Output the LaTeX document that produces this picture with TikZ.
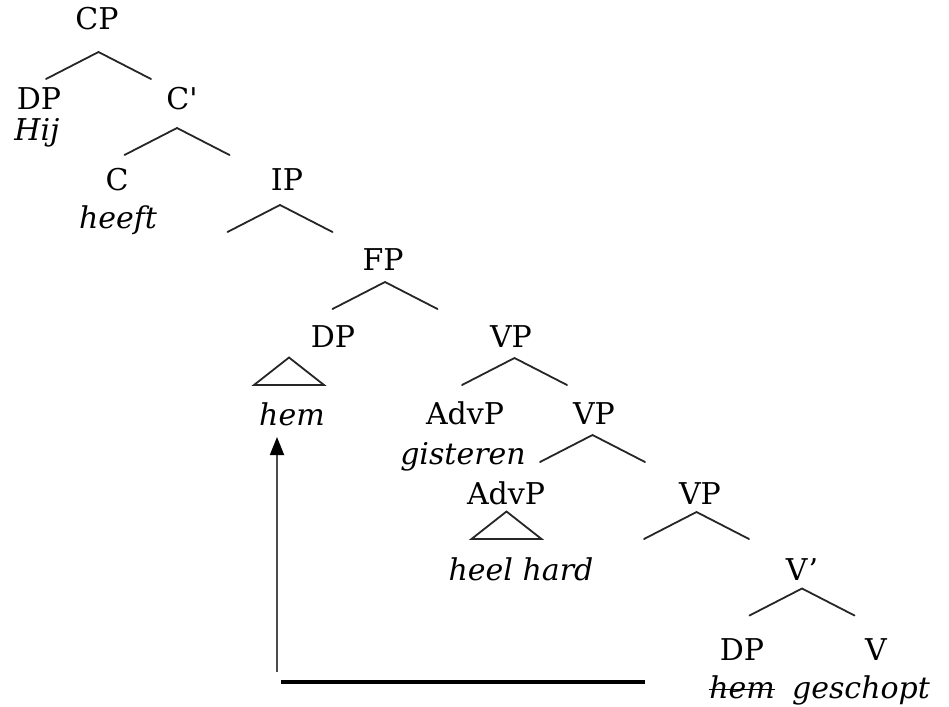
\documentclass[tikz,border=0pt]{standalone}
\usepackage{fontspec}
\setmainfont{DejaVu Serif}
\usetikzlibrary{arrows.meta}
\newcommand{\straightquote}{\XeTeXglyph\XeTeXcharglyph"0027\relax}
\tikzset{
  lbl/.style={inner sep=0pt, anchor=base, font=\fontsize{30}{36}\selectfont},
  wrd/.style={lbl, font=\fontsize{30}{36}\selectfont\itshape},
  treeline/.style={draw=black!85, line width=1.8pt, line cap=round, line join=miter},
  hat/.pic={\draw[treeline] (-52.5,27) -- (0,0) -- (52.5,27);},
  tri/.pic={\draw[treeline] (-35,27.5) -- (0,0) -- (35,27.5) -- cycle;},
  movearrow/.style={draw=black!70, line width=1.8pt, -{Triangle[length=18pt,width=14pt,fill=black,color=black]}},
  baseline/.style={draw=black, line width=3.4pt}
}
\begin{document}
\begin{tikzpicture}[x=1pt,y=-1pt]
\useasboundingbox (0,0) rectangle (949,706);
% labels
\node[lbl] (cp) at (97,30) {CP};
\node[lbl] (dp1) at (39,110) {DP};
\node[wrd] (hij) at (37,140) {Hij};
\node[lbl] (cbar) at (182,110) {C\straightquote};
\node[lbl] (c) at (117,190) {C};
\node[wrd] (heeft) at (118,228) {heeft};
\node[lbl] (ip) at (287,190) {IP};
\node[lbl] (fp) at (383,270) {FP};
\node[lbl] (dp2) at (333,347) {DP};
\node[wrd] (hem1) at (292,425) {hem};
\node[lbl] (vp1) at (511,347) {VP};
\node[lbl] (advp1) at (465,424) {AdvP};
\node[wrd] (gisteren) at (463,464) {gisteren};
\node[lbl] (vp2) at (594,424) {VP};
\node[lbl] (advp2) at (506,504) {AdvP};
\node[wrd] (heelhard) at (521,580) {heel hard};
\node[lbl] (vp3) at (700,504) {VP};
\node[lbl] (vbar) at (802,580) {V’};
\node[lbl] (dp3) at (742,660) {DP};
\node[wrd] (hem2) at (742,698) {hem};
\node[lbl] (v) at (876,660) {V};
\node[wrd] (geschopt) at (861,698) {geschopt};
% strike-through of the trace
\draw[black, line width=1.6pt] ([yshift=8.5pt]hem2.base west) -- ([yshift=8.5pt]hem2.base east);
% branches
\pic at (98.5,52) {hat};
\pic at (177,128) {hat};
\pic at (280,205) {hat};
\pic at (385,282) {hat};
\pic at (289,357.5) {tri};
\pic at (514.5,358) {hat};
\pic at (592.5,435) {hat};
\pic at (506.5,511.5) {tri};
\pic at (696.5,512) {hat};
\pic at (802,588.5) {hat};
% movement
\coordinate (src) at (277,672);
\coordinate (tgt) at (277,437);
\draw[movearrow] (src) -- (tgt);
\coordinate (bl) at (281,682);
\coordinate (br) at (645,682);
\draw[baseline] (bl) -- (br);
\end{tikzpicture}
\end{document}
